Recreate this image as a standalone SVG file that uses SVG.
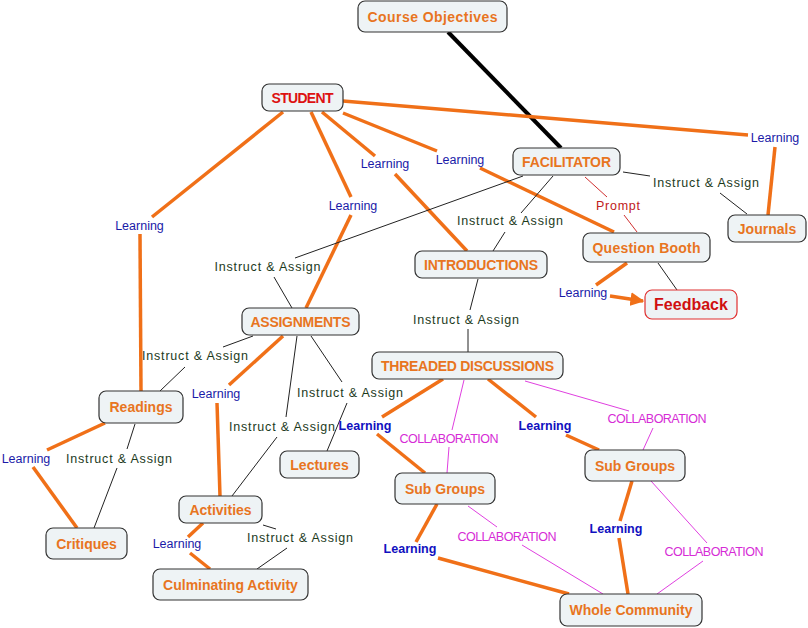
<svg xmlns="http://www.w3.org/2000/svg" width="808" height="628" viewBox="0 0 808 628">
<style>
.n rect{fill:#eef3f5;stroke:#333;stroke-width:1.2}
.n text{font-family:"Liberation Sans",Arial,sans-serif;font-weight:bold;font-size:14px;fill:#e8751f;text-anchor:middle}
.o{stroke:#f07018;stroke-width:3.5;fill:none;stroke-linecap:butt}
.k{stroke:#222;stroke-width:1;fill:none}
.m{stroke:#e040e0;stroke-width:1;fill:none}
.p{stroke:#d03030;stroke-width:1;fill:none}
.lb text{font-family:"Liberation Sans",Arial,sans-serif;font-size:12.5px;text-anchor:middle}
.L{fill:#1a1aa8}
.LB{fill:#1010c0;font-weight:bold;font-size:12px}
.I{fill:#1c3a1c}
.C{fill:#d62bd6;font-size:11.5px}
.P{fill:#c02020}
</style>
<defs>
<marker id="arr" viewBox="0 0 10 10" refX="9" refY="5" markerWidth="4" markerHeight="4" orient="auto" markerUnits="strokeWidth">
<path d="M0,0 L10,5 L0,10 z" fill="#f07018"/>
</marker>
</defs>
<g id="connectors">
<line x1="448" y1="32" x2="561" y2="148" stroke="#000" stroke-width="4"/>
<line class="o" x1="343" y1="101" x2="748" y2="135"/>
<line class="o" x1="775" y1="147" x2="768" y2="215"/>
<line class="o" x1="283" y1="112" x2="152" y2="217"/>
<line class="o" x1="140" y1="234" x2="141" y2="391"/>
<line class="o" x1="311" y1="112" x2="351" y2="197"/>
<line class="o" x1="351" y1="215" x2="306" y2="308"/>
<line class="o" x1="322" y1="112" x2="375" y2="156"/>
<line class="o" x1="395" y1="174" x2="467" y2="251"/>
<line class="o" x1="343" y1="113" x2="437" y2="151"/>
<line class="o" x1="480" y1="168" x2="614" y2="232"/>
<line class="k" x1="623" y1="172" x2="650" y2="176"/>
<line class="k" x1="720" y1="193" x2="747" y2="214"/>
<line class="p" x1="585" y1="177" x2="607" y2="197"/>
<line class="p" x1="624" y1="215" x2="637" y2="232"/>
<line class="k" x1="553" y1="176" x2="521" y2="213"/>
<line class="k" x1="505" y1="232" x2="493" y2="251"/>
<line class="k" x1="523" y1="176" x2="295" y2="258"/>
<line class="k" x1="274" y1="277" x2="292" y2="308"/>
<line class="k" x1="478" y1="279" x2="470" y2="310"/>
<line class="k" x1="468" y1="329" x2="468" y2="352"/>
<line class="o" x1="627" y1="263" x2="596" y2="285"/>
<line class="o" x1="610" y1="296" x2="643" y2="301" marker-end="url(#arr)"/>
<line class="k" x1="658" y1="263" x2="677" y2="290"/>
<line class="k" x1="253" y1="336" x2="223" y2="347"/>
<line class="k" x1="185" y1="367" x2="160" y2="391"/>
<line class="o" x1="283" y1="336" x2="229" y2="385"/>
<line class="o" x1="217" y1="403" x2="220" y2="496"/>
<line class="k" x1="297" y1="336" x2="286" y2="417"/>
<line class="k" x1="277" y1="437" x2="232" y2="496"/>
<line class="k" x1="311" y1="336" x2="342" y2="382"/>
<line class="k" x1="347" y1="403" x2="327" y2="451"/>
<line class="o" x1="105" y1="423" x2="47" y2="450"/>
<line class="o" x1="33" y1="467" x2="77" y2="528"/>
<line class="k" x1="135" y1="424" x2="127" y2="449"/>
<line class="k" x1="117" y1="468" x2="94" y2="528"/>
<line class="o" x1="203" y1="523" x2="188" y2="537"/>
<line class="o" x1="190" y1="553" x2="210" y2="569"/>
<line class="k" x1="263" y1="525" x2="276" y2="529"/>
<line class="k" x1="287" y1="548" x2="257" y2="569"/>
<line class="o" x1="443" y1="379" x2="382" y2="417"/>
<line class="o" x1="377" y1="434" x2="425" y2="473"/>
<line class="m" x1="464" y1="380" x2="452" y2="430"/>
<line class="m" x1="449" y1="447" x2="447" y2="473"/>
<line class="o" x1="488" y1="379" x2="536" y2="417"/>
<line class="o" x1="566" y1="435" x2="599" y2="450"/>
<line class="m" x1="525" y1="381" x2="629" y2="411"/>
<line class="m" x1="653" y1="428" x2="643" y2="450"/>
<line class="o" x1="437" y1="504" x2="416" y2="542"/>
<line class="o" x1="438" y1="558" x2="569" y2="594"/>
<line class="m" x1="468" y1="506" x2="497" y2="527"/>
<line class="m" x1="522" y1="545" x2="603" y2="594"/>
<line class="o" x1="632" y1="481" x2="620" y2="521"/>
<line class="o" x1="619" y1="538" x2="628" y2="594"/>
<line class="m" x1="651" y1="481" x2="707" y2="543"/>
<line class="m" x1="703" y1="561" x2="657" y2="594"/>
<g class="lb">
<text class="L" x="775" y="142">Learning</text>
<text class="L" x="139.5" y="230">Learning</text>
<text class="L" x="353" y="210">Learning</text>
<text class="L" x="385" y="168">Learning</text>
<text class="L" x="460" y="164">Learning</text>
<text class="L" x="583" y="297">Learning</text>
<text class="L" x="26" y="463">Learning</text>
<text class="L" x="216" y="398">Learning</text>
<text class="L" x="177" y="548">Learning</text>
<text class="I" x="267.5" y="271" textLength="106">Instruct &amp; Assign</text>
<text class="I" x="510" y="225" textLength="106">Instruct &amp; Assign</text>
<text class="I" x="466" y="324" textLength="106">Instruct &amp; Assign</text>
<text class="I" x="195" y="360" textLength="106">Instruct &amp; Assign</text>
<text class="I" x="706" y="187" textLength="106">Instruct &amp; Assign</text>
<text class="I" x="119" y="463" textLength="106">Instruct &amp; Assign</text>
<text class="I" x="350" y="397" textLength="106">Instruct &amp; Assign</text>
<text class="I" x="282" y="431" textLength="106">Instruct &amp; Assign</text>
<text class="I" x="300" y="542" textLength="106">Instruct &amp; Assign</text>
<text class="P" x="618" y="210" textLength="44">Prompt</text>
<text class="LB" x="365" y="430">Learning</text>
<text class="LB" x="545" y="430">Learning</text>
<text class="LB" x="410" y="553">Learning</text>
<text class="LB" x="616" y="533">Learning</text>
<text class="C" x="449" y="443" textLength="99">COLLABORATION</text>
<text class="C" x="657" y="423" textLength="99">COLLABORATION</text>
<text class="C" x="507" y="541" textLength="99">COLLABORATION</text>
<text class="C" x="714" y="556" textLength="99">COLLABORATION</text>
</g>
</g>
<g id="course-objectives" class="n"><rect x="358" y="1" width="149" height="31" rx="7"/><text x="432.5" y="21.5" textLength="130">Course Objectives</text></g>
<g id="student" class="n"><rect x="262" y="84" width="81" height="27" rx="7"/><text x="302.5" y="102.5" textLength="62" style="fill:#dd1111">STUDENT</text></g>
<g id="facilitator" class="n"><rect x="513" y="148" width="107" height="27" rx="7"/><text x="566.5" y="166.5" textLength="89">FACILITATOR</text></g>
<g id="journals" class="n"><rect x="728" y="215" width="78" height="27" rx="7"/><text x="767" y="233.5">Journals</text></g>
<g id="question-booth" class="n"><rect x="583" y="233" width="127" height="29" rx="7"/><text x="646.5" y="252.5" textLength="108">Question Booth</text></g>
<g id="feedback" class="n"><rect x="645" y="290" width="92" height="29" rx="7" style="stroke:#e03030"/><text x="691" y="310" style="fill:#d01010;font-size:16px">Feedback</text></g>
<g id="introductions" class="n"><rect x="415" y="251" width="132" height="27" rx="7"/><text x="481" y="269.5" textLength="114">INTRODUCTIONS</text></g>
<g id="assignments" class="n"><rect x="242" y="308" width="117" height="27" rx="7"/><text x="300.5" y="326.5" textLength="100">ASSIGNMENTS</text></g>
<g id="threaded-discussions" class="n"><rect x="372" y="352" width="191" height="27" rx="7"/><text x="467.5" y="370.5" textLength="173">THREADED DISCUSSIONS</text></g>
<g id="readings" class="n"><rect x="99" y="391" width="84" height="32" rx="7"/><text x="141" y="412">Readings</text></g>
<g id="lectures" class="n"><rect x="280" y="451" width="79" height="27" rx="7"/><text x="319.5" y="469.5">Lectures</text></g>
<g id="critiques" class="n"><rect x="46" y="528" width="81" height="31" rx="7"/><text x="86.5" y="548.5">Critiques</text></g>
<g id="activities" class="n"><rect x="179" y="496" width="83" height="27" rx="7"/><text x="220.5" y="514.5">Activities</text></g>
<g id="culminating-activity" class="n"><rect x="153" y="569" width="155" height="31" rx="7"/><text x="230.5" y="589.5">Culminating Activity</text></g>
<g id="sub-groups-1" class="n"><rect x="395" y="473" width="100" height="31" rx="7"/><text x="445" y="493.5">Sub Groups</text></g>
<g id="sub-groups-2" class="n"><rect x="585" y="450" width="100" height="31" rx="7"/><text x="635" y="470.5">Sub Groups</text></g>
<g id="whole-community" class="n"><rect x="560" y="594" width="142" height="32" rx="7"/><text x="631" y="615">Whole Community</text></g>
</svg>
